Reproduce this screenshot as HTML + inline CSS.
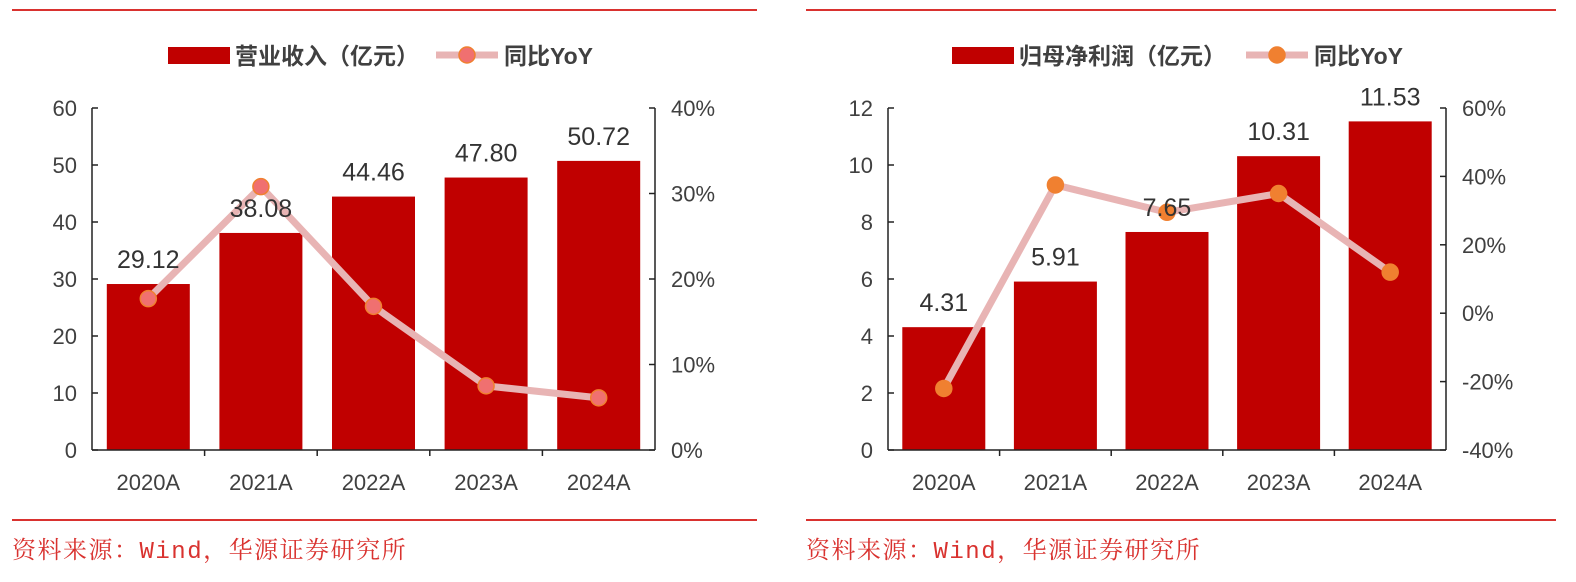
<!DOCTYPE html>
<html><head><meta charset="utf-8"><style>
body{margin:0;background:#fff;width:1576px;height:577px;overflow:hidden}
svg text{font-family:"Liberation Sans","Noto Sans CJK SC",sans-serif}
</style></head><body>
<svg id="s" width="1576" height="577" xmlns="http://www.w3.org/2000/svg"></svg>
<script>
const categories=["2020A","2021A","2022A","2023A","2024A"];
const revenue=[29.12,38.08,44.46,47.80,50.72];
const revenueYoy=[17.7,30.8,16.8,7.5,6.1];
const profit=[4.31,5.91,7.65,10.31,11.53];
const profitYoy=[-22,37.5,29.5,35,12];
const revTicks=[0,10,20,30,40,50,60];
const revPctTicks=[0,10,20,30,40];
const profTicks=[0,2,4,6,8,10,12];
const profPctTicks=[-40,-20,0,20,40,60];
const NS="http://www.w3.org/2000/svg";
const svg=document.getElementById('s');
function el(t,a,txt,p){const e=document.createElementNS(NS,t);for(const k in a)e.setAttribute(k,a[k]);if(txt!=null)e.textContent=txt;(p||svg).appendChild(e);return e;}
function chart(o){
 const g=el('g',{});
 
 
 const x0=o.x0,x1=o.x1,yT=108,yB=450;
 const yL=v=>yB-(v-o.lmin)/(o.lmax-o.lmin)*(yB-yT);
 const yR=v=>yB-(v-o.rmin)/(o.rmax-o.rmin)*(yB-yT);
 const bw=(x1-x0)/categories.length;
 const cx=i=>x0+bw*(i+0.5);
 let l=el('line',{x1:o.lineX0,x2:o.lineX1,y1:10,y2:10,stroke:'#d9322f','stroke-width':2},null,g);
 
 l=el('line',{x1:o.lineX0,x2:o.lineX1,y1:520,y2:520,stroke:'#d9322f','stroke-width':2},null,g);
 
 let t=el('text',{x:o.lineX0,y:558,'font-size':24,fill:'#d9322f','letter-spacing':1.5,style:'font-family:"Liberation Mono","Noto Serif CJK SC",serif'},'资料来源：Wind，华源证券研究所',g);
 
 // legend
 const lg=el('g',{},null,g);
 el('rect',{x:o.legX,y:47,width:62,height:17,fill:'#c00000'},null,lg);
 el('text',{x:o.legX+67,y:64,'font-size':23,'font-weight':'bold',fill:'#404040'},o.barLabel,lg);
 el('line',{x1:o.legX2,x2:o.legX2+62,y1:55,y2:55,stroke:'#e8b4b4','stroke-width':7},null,lg);
 el('circle',{cx:o.legX2+31,cy:55,r:8,fill:o.dot,stroke:'#f08030','stroke-width':1.5},null,lg);
 el('text',{x:o.legX2+68,y:64,'font-size':23,'font-weight':'bold',fill:'#404040'},'同比YoY',lg);
 // bars
 o.bars.forEach((v,i)=>{
  const r=el('rect',{x:cx(i)-41.5,y:yL(v),width:83,height:yB-yL(v),fill:'#c00000'},null,g);
  
 });
 // axes
 el('line',{x1:x0,x2:x0,y1:yT,y2:yB,stroke:'#222','stroke-width':1.5},null,g);
 el('line',{x1:x1,x2:x1,y1:yT,y2:yB,stroke:'#222','stroke-width':1.5},null,g);
 el('line',{x1:x0,x2:x1,y1:yB,y2:yB,stroke:'#222','stroke-width':1.5},null,g);
 o.lt.forEach(v=>{el('line',{x1:x0,x2:x0+6,y1:yL(v),y2:yL(v),stroke:'#222','stroke-width':1.5},null,g);
  const tt=el('text',{x:x0-15,y:yL(v)+8,'font-size':22,fill:'#404040','text-anchor':'end'},v,g);
  });
 o.rt.forEach(v=>{el('line',{x1:x1-6,x2:x1,y1:yR(v),y2:yR(v),stroke:'#222','stroke-width':1.5},null,g);
  const tt=el('text',{x:x1+16,y:yR(v)+8,'font-size':22,fill:'#404040'},v+'%',g);
  });
 categories.forEach((c,i)=>{
  if(i>0)el('line',{x1:x0+bw*i,x2:x0+bw*i,y1:yB,y2:yB+6,stroke:'#222','stroke-width':1.5},null,g);
  const tt=el('text',{x:cx(i),y:yB+40,'font-size':22,fill:'#404040','text-anchor':'middle'},c,g);
  
 });
 // line
 const pts=o.yoy.map((v,i)=>cx(i)+','+yR(v)).join(' ');
 const pl=el('polyline',{points:pts,fill:'none',stroke:'#e8b4b4','stroke-width':7,'stroke-linejoin':'round'},null,g);
 
 o.yoy.forEach((v,i)=>{const c=el('circle',{cx:cx(i),cy:yR(v),r:8,fill:o.dot,stroke:'#f08030','stroke-width':1.5},null,g);
  });
 o.bars.forEach((v,i)=>{const tt=el('text',{x:cx(i),y:yL(v)-16,'font-size':25,fill:'#333','text-anchor':'middle'},v.toFixed(2),g);
  });
}
chart({name:'revenue-chart',x0:92,x1:655,lmin:0,lmax:60,rmin:0,rmax:40,bars:revenue,yoy:revenueYoy,lt:revTicks,rt:revPctTicks,lineX0:12,lineX1:757,legX:168,legX2:436,barLabel:'营业收入（亿元）',dot:'#f07070'});
chart({name:'profit-chart',x0:888,x1:1446,lmin:0,lmax:12,rmin:-40,rmax:60,bars:profit,yoy:profitYoy,lt:profTicks,rt:profPctTicks,lineX0:806,lineX1:1556,legX:952,legX2:1246,barLabel:'归母净利润（亿元）',dot:'#f08030'});
</script>
</body></html>
